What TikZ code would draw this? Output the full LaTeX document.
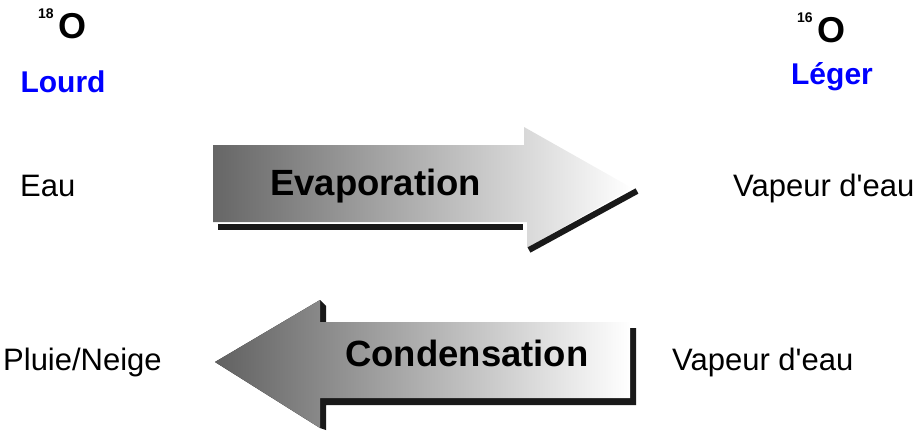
\documentclass[tikz,border=0pt]{standalone}
\usepackage{fontspec}
\setmainfont{Liberation Sans}
\usepackage{tikz}
\newcommand{\straightquote}{{\XeTeXglyph\XeTeXcharglyph"27\relax}}

\begin{document}
\begin{tikzpicture}[
    x=1pt, y=-1pt,
    plain label/.style={anchor=base west, inner sep=0pt, font=\fontsize{31}{36}\selectfont},
    arrow title/.style={anchor=base west, inner sep=0pt, font=\fontsize{36.5}{40}\selectfont\bfseries},
    isotope/.style={anchor=base west, inner sep=0pt, font=\fontsize{36}{40}\selectfont\bfseries},
    weight/.style={anchor=base, inner sep=0pt, text=blue, font=\fontsize{30}{34}\selectfont\bfseries},
    shadow line/.style={line width=6pt, black!90, line cap=butt},
    every node/.style={color=black}
    ]
    \useasboundingbox (0,0) rectangle (923,431);
    % Isotopes
    \node[isotope] (o18) at (38,38) {{\fontsize{14}{14}\selectfont\raisebox{20pt}{18}}\hspace{5pt}O};
    \node[isotope] (o16) at (797,42) {{\fontsize{14}{14}\selectfont\raisebox{20pt}{16}}\hspace{5pt}O};
    \node[weight, text=blue] (lourd) at (63,92) {Lourd};
    \node[weight, text=blue] (leger) at (832,84) {Léger};
    % Evaporation arrow
    \shade[left color=black!60, right color=white]
        (213,145) coordinate (eA) -- (524,145) -- (524,127) coordinate (eTop)
        -- (632,188) coordinate (eTip) -- (527,248) coordinate (eBot)
        -- (527,222) -- (213,222) -- cycle;
    \draw[shadow line] (218,227) -- (523,227);
    \draw[shadow line] (529,250) -- (637,191);
    \node[arrow title] (evap) at (270,195) {Evaporation};
    % Condensation arrow
    \fill[black!90] (215,362) -- (320,300) -- (326,306) -- (326,328) -- (636,328)
        -- (636,405) -- (326,405) -- (326,430) -- (320,428) -- cycle;
    \shade[left color=black!62, right color=white]
        (215,362) coordinate (cTip) -- (320,300) coordinate (cTop)
        -- (320,322) -- (630,322) coordinate (cB) -- (630,398)
        -- (320,398) -- (320,428) coordinate (cBot) -- cycle;
    \node[arrow title] (cond) at (345,366) {Condensation};
    % Labels
    \node[plain label] (eau) at (20,196) {Eau};
    \node[plain label] (vap1) at (733,196) {Vapeur d\straightquote eau};
    \node[plain label] (pluie) at (3,370) {Pluie/Neige};
    \node[plain label] (vap2) at (672,370) {Vapeur d\straightquote eau};
\end{tikzpicture}
\end{document}
